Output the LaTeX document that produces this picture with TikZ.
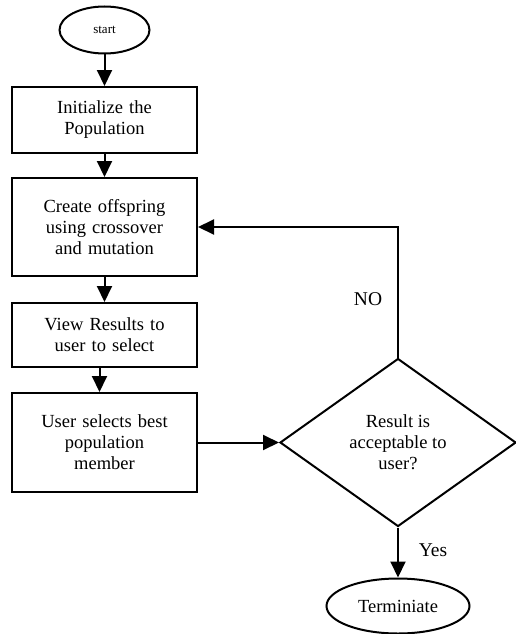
\documentclass[tikz,border=0pt]{standalone}
\usepackage{fontspec}
\setmainfont{Liberation Serif}
\usetikzlibrary{shapes.geometric,arrows.meta}
\tikzset{
  stepbox/.style={draw, line width=2pt, minimum width=185pt, text width=175pt,
    align=center, inner sep=0pt, font=\fontsize{18.5}{21}\selectfont},
  ends/.style={draw, ellipse, line width=2pt, inner sep=0pt},
  flow/.style={line width=2pt, -{Triangle[length=16pt,width=15pt]}},
  tag/.style={font=\fontsize{19.5}{22}\selectfont},
}
\begin{document}
\begin{tikzpicture}[x=1pt, y=-1pt]
  \useasboundingbox (0,0) rectangle (515,634);
  \node [ends, minimum width=90pt, minimum height=47pt, font=\fontsize{13}{15}\selectfont] (start) at (104.5,30) {start};
  \node [stepbox, minimum height=66pt] (init) at (104.5,120) {Initialize the\\Population};
  \node [stepbox, minimum height=98pt] (create) at (104.5,227) {Create offspring\\using crossover\\and mutation};
  \node [stepbox, minimum height=64pt] (view) at (104.5,335) {View Results to\\user to select};
  \node [stepbox, minimum height=99pt] (select) at (104.5,442.5) {User selects best\\population\\member};
  \node [draw, diamond, line width=2pt, aspect=1.4, minimum width=236pt, minimum height=168pt,
    inner sep=0pt, align=center, font=\fontsize{18.5}{21}\selectfont] (check) at (398,442.5) {Result is\\acceptable to\\user?};
  \node [ends, minimum width=143pt, minimum height=55pt, font=\fontsize{18.5}{21}\selectfont] (stop) at (398,606) {Terminiate};
  % labels
  \node [tag] (no) at (368,299) {NO};
  \node [tag] (yes) at (433,550) {Yes};
  % connectors
  \draw [flow] (start) -- (init);
  \draw [flow] (init) -- (create);
  \draw [flow] (create) -- (view);
  \draw [flow] ([xshift=-5pt]view.south) -- ([xshift=-5pt]select.north);
  \draw [flow] (select) -- (check);
  \draw [flow] (check.north) |- (create.east);
  \draw [flow] (check) -- (stop);
\end{tikzpicture}
\end{document}
